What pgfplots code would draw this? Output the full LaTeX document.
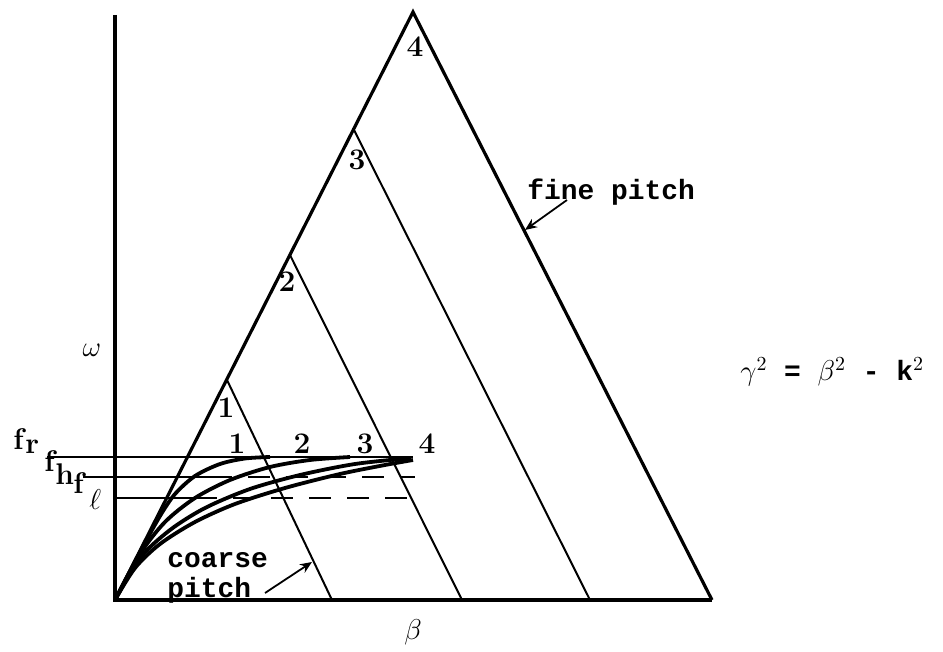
\documentclass[border=0pt]{standalone}
\usepackage{fontspec}
\usepackage{pgfplots}
\pgfplotsset{compat=1.18}
\usetikzlibrary{arrows.meta}
\newfontfamily\tw{Liberation Mono}

% omega-beta diagram of helix dispersion
\pgfplotstableread{
x y
0 0
25 48
45 84
60 106
80 124
105 136
130 141.5
155 143
}\curveone
\pgfplotstableread{
x y
0 0
25 46
50 78
80 102
115 120
155 133
195 140
235 143
}\curvetwo
\pgfplotstableread{
x y
0 0
25 42
55 70
90 92
135 111
185 125
240 136
296 142
}\curvethree
\pgfplotstableread{
x y
0 0
20 32
45 56
80 78
120 96
170 112
225 126
270 135
298 140
}\curvefour

\begin{document}
\begin{tikzpicture}
\begin{axis}[
  x=0.5bp, y=0.5bp,
  xmin=-115, xmax=828, ymin=-51, ymax=600,
  hide axis, clip=false,
]
\path (axis cs:-115,-51) rectangle (axis cs:828,600);

% omega and beta axes
\addplot[black, line width=1.6bp, mark=none] coordinates {(0,585) (0,0) (597,0)};
% outer triangle: coarse and fine pitch boundaries
\addplot[black, line width=1.6bp, mark=none, line join=miter] coordinates {(0,0) (298,588) (597,0)};
% space-harmonic lines
\addplot[black, line width=1bp, mark=none] coordinates {(112,220) (217,0)};
\addplot[black, line width=1bp, mark=none] coordinates {(175,345) (347,0)};
\addplot[black, line width=1bp, mark=none] coordinates {(238,472) (475,0)};

% cutoff frequency levels
\addplot[black, line width=1.1bp, mark=none] coordinates {(-68,143) (298,143)};
\addplot[black, line width=1bp, mark=none] coordinates {(-32,123) (95,123)};
\addplot[black, line width=1bp, mark=none, dash pattern=on 11bp off 8bp] coordinates {(95,123) (300,123)};
\addplot[black, line width=1bp, mark=none] coordinates {(0,102) (80,102)};
\addplot[black, line width=1bp, mark=none, dash pattern=on 11bp off 8bp] coordinates {(80,102) (308,102)};

% dispersion curves
\addplot[black, line width=1.9bp, mark=none, smooth] table {\curveone};
\addplot[black, line width=1.9bp, mark=none, smooth] table {\curvetwo};
\addplot[black, line width=1.9bp, mark=none, smooth] table {\curvethree};
\addplot[black, line width=1.9bp, mark=none, smooth] table {\curvefour};

% numbers along the light line and on the curves
\begin{scope}[every node/.style={font=\bfseries\fontsize{15}{15}\selectfont, inner sep=0pt}]
\node at (axis cs:111,192) {1};
\node at (axis cs:172,318) {2};
\node at (axis cs:242,440) {3};
\node at (axis cs:300,553) {4};
\node at (axis cs:122,156) {1};
\node at (axis cs:187,156) {2};
\node at (axis cs:250,156) {3};
\node at (axis cs:312,156) {4};
\end{scope}

% frequency labels
\begin{scope}[every node/.style={font=\bfseries\fontsize{15}{15}\selectfont, inner sep=0pt, anchor=base west}]
\node at (axis cs:-102,150) {f};
\node at (axis cs:-90,146) {r};
\node at (axis cs:-71,128) {f};
\node at (axis cs:-60,115) {h};
\node at (axis cs:-42,106) {f};
\node at (axis cs:-26,90) {$\ell$};
\end{scope}

\begin{scope}[every node/.style={font=\tw\bfseries\fontsize{14}{14}\selectfont, inner sep=0pt, anchor=base west}]
\node at (axis cs:412,400) {fine pitch};
\node at (axis cs:52,33) {coarse};
\node at (axis cs:52,2) {pitch};
\node[anchor=west] at (axis cs:625,228) {$\gamma^2$ = $\beta^2$ - k$^2$};
\end{scope}

\draw[black, line width=0.9bp, -{Stealth[length=6bp,width=5bp]}] (axis cs:452,400) -- (axis cs:410,370);
\draw[black, line width=0.9bp, -{Stealth[length=6bp,width=5bp]}] (axis cs:150,7) -- (axis cs:197,38);

\node[font=\fontsize{15}{15}\selectfont] at (axis cs:-23,250) {$\omega$};
\node[font=\fontsize{14}{14}\selectfont] at (axis cs:298,-32) {$\beta$};
\end{axis}
\end{tikzpicture}
\end{document}
